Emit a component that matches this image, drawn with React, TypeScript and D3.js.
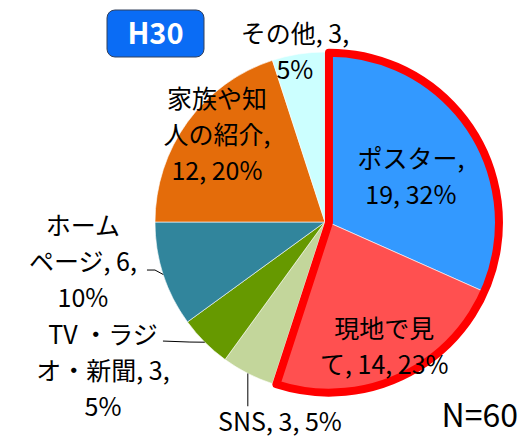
import React from 'react';
import * as d3 from 'd3';

const categories = ['ポスター', '現地で見て', 'SNS', 'TV・ラジオ・新聞', 'ホームページ', '家族や知人の紹介', 'その他'];
const counts = [19, 14, 3, 3, 6, 12, 3];
const labelLines = [
  ['ポスター,', '19, 32%'],
  ['現地で見', 'て, 14, 23%'],
  ['SNS, 3, 5%'],
  ['TV ・ラジ', 'オ・新聞, 3,', '5%'],
  ['ホーム', 'ページ, 6,', '10%'],
  ['家族や知', '人の紹介,', '12, 20%'],
  ['その他, 3,', '5%'],
];
const colors = ['#3399FF', '#FF5050', '#C3D69B', '#669900', '#31859C', '#E46C0A', '#CCFFFF'];
const highlighted = [true, true, false, false, false, false, false];
const titleText = 'H30';
const totalText = 'N=60';

// layout (not data)
const W = 522, H = 440;
const cx = 325, cy = 222, R = 170;
const explodeDist = 4;
const lineH = 36;
const FONT = '"Noto Sans CJK JP", "Noto Sans", sans-serif';
// per label: radius factor, nudge
const labelLayout = [
  { k: 0.6, dx: -3.6, dy: 10 },
  { k: 0.8, dx: 0, dy: 0 },
  { k: 1.2, dx: 47.6, dy: 18.5 },
  { k: 1.2, dx: -77.8, dy: 4.8 },
  { k: 1.2, dx: -48, dy: -23 },
  { k: 0.8, dx: 2, dy: -7 },
  { k: 1.0, dx: -3.5, dy: -1.5 },
];
// leader lines: relative to label anchor
const leaders: Record<number, { elbow?: [number, number]; end: [number, number]; vertical?: boolean }> = {
  2: { end: [-28, -16], vertical: true },
  3: { elbow: [87, -29], end: [60, -30] },
  4: { elbow: [72, 8], end: [64, 8] },
};

function polar(a: number, r: number): [number, number] {
  return [Math.sin(a) * r, -Math.cos(a) * r];
}

export default function App() {
  const pie = d3.pie<number>().sort(null).value((d) => d).startAngle(0).endAngle(2 * Math.PI);
  const arcs = pie(counts);
  const arcGen = d3.arc<any>().innerRadius(0).outerRadius(R);

  const hiArcs = arcs.filter((_, i) => highlighted[i]);
  const hiStart = d3.min(hiArcs, (a) => a.startAngle) as number;
  const hiEnd = d3.max(hiArcs, (a) => a.endAngle) as number;
  const hiMid = (hiStart + hiEnd) / 2;
  const [ex, ey] = polar(hiMid, explodeDist);

  const outline = arcGen({ startAngle: hiStart, endAngle: hiEnd } as any) as string;

  return (
    <svg width={W} height={H} style={{ position: 'absolute', left: 0, top: 0, background: '#fff' }} fontFamily={FONT}>
      <g transform={`translate(${cx},${cy})`}>
        {arcs.map((a, i) =>
          highlighted[i] ? null : (
            <path key={i} d={arcGen(a) as string} fill={colors[i]} stroke="#fff" strokeWidth={0.6} />
          )
        )}
        <g transform={`translate(${ex},${ey})`}>
          {arcs.map((a, i) =>
            highlighted[i] ? (
              <path key={i} d={arcGen(a) as string} fill={colors[i]} stroke="#fff" strokeWidth={0.6} />
            ) : null
          )}
          <path d={outline} fill="none" stroke="#FF0000" strokeWidth={8} strokeLinejoin="round" />
        </g>
        {arcs.map((a, i) => {
          const mid = (a.startAngle + a.endAngle) / 2;
          const L = labelLayout[i];
          const [px, py] = polar(mid, R * L.k);
          const ox = highlighted[i] ? ex : 0;
          const oy = highlighted[i] ? ey : 0;
          const ax = px + L.dx + ox;
          const ay = py + L.dy + oy;
          const lines = labelLines[i];
          const n = lines.length;
          const ld = leaders[i];
          let leader = null;
          if (ld) {
            const [edx, edy] = polar(mid, R);
            const pts: [number, number][] = [[edx, edy]];
            if (ld.vertical) {
              pts.push([edx, ay + ld.end[1]]);
            } else {
              if (ld.elbow) pts.push([ax + ld.elbow[0], ay + ld.elbow[1]]);
              pts.push([ax + ld.end[0], ay + ld.end[1]]);
            }
            leader = <path d={d3.line()(pts) as string} fill="none" stroke="#000" strokeWidth={1} />;
          }
          return (
            <g key={`l${i}`}>
              {leader}
              {lines.map((t, j) => (
                <text
                  key={j}
                  x={ax}
                  y={ay + (j - (n - 1) / 2) * lineH}
                  dy="0.35em"
                  textAnchor="middle"
                  fontSize={25}
                  fill="#000"
                >
                  {t}
                </text>
              ))}
            </g>
          );
        })}
      </g>
      <rect x={107} y={10} width={97} height={47} rx={8} fill="#0A6CF5" stroke="#33405a" strokeWidth={1} />
      <text x={155.5} y={34} dy="0.35em" textAnchor="middle" fontSize={29} fontWeight={600} fill="#fff">
        {titleText}
      </text>
      <text x={518} y={427} textAnchor="end" fontSize={32} fill="#000">
        {totalText}
      </text>
    </svg>
  );
}
